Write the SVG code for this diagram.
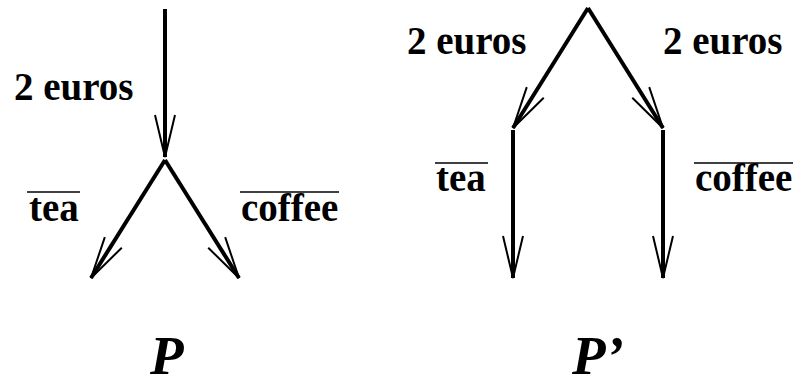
<svg xmlns="http://www.w3.org/2000/svg" width="803" height="387" viewBox="0 0 803 387">
<defs>
<marker id="arr" markerUnits="userSpaceOnUse" markerWidth="60" markerHeight="40" refX="0" refY="0" orient="auto" overflow="visible">
<path d="M-42,-10 L0,0 L-42,10" stroke="#000" stroke-width="2" fill="none"/>
</marker>
</defs>
<g id="connectors" stroke="#000" stroke-width="4" fill="none">
<line x1="165" y1="9" x2="165" y2="157" marker-end="url(#arr)"/>
<line x1="165" y1="160" x2="91" y2="278" marker-end="url(#arr)"/>
<line x1="165" y1="160" x2="239" y2="278" marker-end="url(#arr)"/>
<line x1="588" y1="8" x2="513" y2="128" marker-end="url(#arr)"/>
<line x1="588" y1="8" x2="663" y2="128" marker-end="url(#arr)"/>
<line x1="513" y1="130" x2="513" y2="278" marker-end="url(#arr)"/>
<line x1="663" y1="130" x2="663" y2="278" marker-end="url(#arr)"/>
</g>
<g id="overlines" stroke="#000" stroke-width="1.6">
<line x1="27" y1="192" x2="80" y2="192"/>
<line x1="240" y1="192" x2="339" y2="192"/>
<line x1="435" y1="163" x2="488" y2="163"/>
<line x1="694" y1="163" x2="793" y2="163"/>
</g>
<text id="label-P-2euros" x="14" y="100" font-family="Liberation Serif" font-weight="bold" font-size="39">2 euros</text>
<text id="label-P-tea" x="29" y="221" font-family="Liberation Serif" font-weight="bold" font-size="39">tea</text>
<text id="label-P-coffee" x="241" y="221" font-family="Liberation Serif" font-weight="bold" font-size="39">coffee</text>
<text id="label-P2-2euros-l" x="407" y="54" font-family="Liberation Serif" font-weight="bold" font-size="39">2 euros</text>
<text id="label-P2-2euros-r" x="663" y="54" font-family="Liberation Serif" font-weight="bold" font-size="39">2 euros</text>
<text id="label-P2-tea" x="436" y="191" font-family="Liberation Serif" font-weight="bold" font-size="39">tea</text>
<text id="label-P2-coffee" x="695" y="191" font-family="Liberation Serif" font-weight="bold" font-size="39">coffee</text>
<text id="name-P" x="150" y="374" font-family="Liberation Serif" font-weight="bold" font-style="italic" font-size="55">P</text>
<text id="name-P2" x="572" y="374" font-family="Liberation Serif" font-weight="bold" font-style="italic" font-size="55">P’</text>
</svg>
